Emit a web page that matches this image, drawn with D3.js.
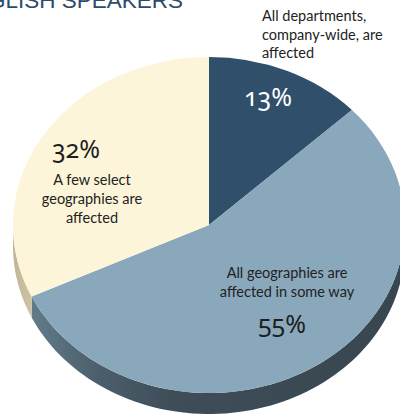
<!DOCTYPE html>
<html>
<head>
<meta charset="utf-8">
<script src="https://cdn.jsdelivr.net/npm/d3@7"></script>
<style>
  html, body { margin: 0; padding: 0; background: #ffffff; }
  svg { display: block; }
  .lbl { font-family: Lato, "Open Sans", sans-serif; font-size: 14.5px; fill: #222222; }
  .pct { font-family: "Noto Sans", Lato, sans-serif; font-size: 25px; font-variant-numeric: oldstyle-nums; font-feature-settings: "onum" 1; }
</style>
</head>
<body>
<script>
// Share of respondents by scope of impact
const categories = [
  "All departments, company-wide, are affected",
  "All geographies are affected in some way",
  "A few select geographies are affected"
];
const values = [13, 55, 32];
const pctLabels = ["13%", "55%", "32%"];

const W = 400, H = 416;
const cx = 209, cy = 225, rx = 196, ry = 168, depth = 21;

const topColors = ["#2f4f6b", "#8aa8bb", "#fdf5da"];

const svg = d3.select("body").append("svg")
  .attr("width", W).attr("height", H);

const defs = svg.append("defs");
const gBlue = defs.append("linearGradient")
  .attr("id", "wallBlue").attr("gradientUnits", "userSpaceOnUse")
  .attr("x1", 20).attr("y1", 0).attr("x2", 400).attr("y2", 0);
[[0, "#66808f"], [0.21, "#4b5e6b"], [0.4, "#3e4d58"], [1, "#38464f"]]
  .forEach(([o, c]) => gBlue.append("stop").attr("offset", o).attr("stop-color", c));
const gCream = defs.append("linearGradient")
  .attr("id", "wallCream").attr("gradientUnits", "userSpaceOnUse")
  .attr("x1", 10).attr("y1", 0).attr("x2", 40).attr("y2", 0);
[[0, "#bfb495"], [1, "#d3c9a9"]]
  .forEach(([o, c]) => gCream.append("stop").attr("offset", o).attr("stop-color", c));
const wallFills = [null, "url(#wallBlue)", "url(#wallCream)"];

// Title (runs past the left edge of the page)
svg.append("text")
  .attr("x", 183).attr("y", 7.5)
  .attr("text-anchor", "end")
  .style("font-family", "'Liberation Sans', Arial, sans-serif")
  .style("font-size", "22.5px")
  .style("fill", "#2d4b6a")
  .text("ENGLISH SPEAKERS");

const pie = d3.pie().sort(null).value(d => d).startAngle(0).endAngle(2 * Math.PI);
const arcs = pie(values);

// point on the tilted rim, angle measured clockwise from 12 o'clock
const rim = (a, dy = 0) => [cx + rx * Math.sin(a), cy - ry * Math.cos(a) + dy];

// Front walls: only the part of the rim facing the viewer (90°..270°)
const wallG = svg.append("g");
arcs.forEach((d, i) => {
  const a0 = Math.max(d.startAngle, Math.PI / 2);
  const a1 = Math.min(d.endAngle, 3 * Math.PI / 2);
  if (a1 <= a0) return;
  const n = 80;
  const ang = d3.range(n + 1).map(k => a0 + (a1 - a0) * k / n);
  const pts = ang.map(a => rim(a)).concat(ang.slice().reverse().map(a => rim(a, depth)));
  wallG.append("path")
    .attr("d", d3.line()(pts) + "Z")
    .attr("fill", wallFills[i]);
});

// Top face: circular arcs squashed into the tilted ellipse
const arc = d3.arc().innerRadius(0).outerRadius(rx);
svg.append("g")
  .attr("transform", `translate(${cx},${cy}) scale(1,${ry / rx})`)
  .selectAll("path")
  .data(arcs)
  .join("path")
  .attr("d", arc)
  .attr("fill", (d, i) => topColors[i]);

// Category labels
const textG = svg.append("g");
function lines(xs, ys, arr, anchor) {
  arr.forEach((t, k) => {
    textG.append("text").attr("class", "lbl")
      .attr("x", xs).attr("y", ys[k])
      .attr("text-anchor", anchor)
      .text(t);
  });
}
lines(262, [21, 39.5, 58], ["All departments,", "company-wide, are", "affected"], "start");
lines(92, [185, 204, 222.5], ["A few select", "geographies are", "affected"], "middle");
lines(287, [278, 297], ["All geographies are", "affected in some way"], "middle");

// Percent labels
const pctPos = [[268, 106, "#ffffff"], [282, 333, "#1e1e1e"], [76, 158, "#1e1e1e"]];
pctLabels.forEach((t, i) => {
  textG.append("text").attr("class", "pct")
    .attr("x", pctPos[i][0]).attr("y", pctPos[i][1])
    .attr("text-anchor", "middle")
    .style("fill", pctPos[i][2])
    .text(t);
});
</script>
</body>
</html>
